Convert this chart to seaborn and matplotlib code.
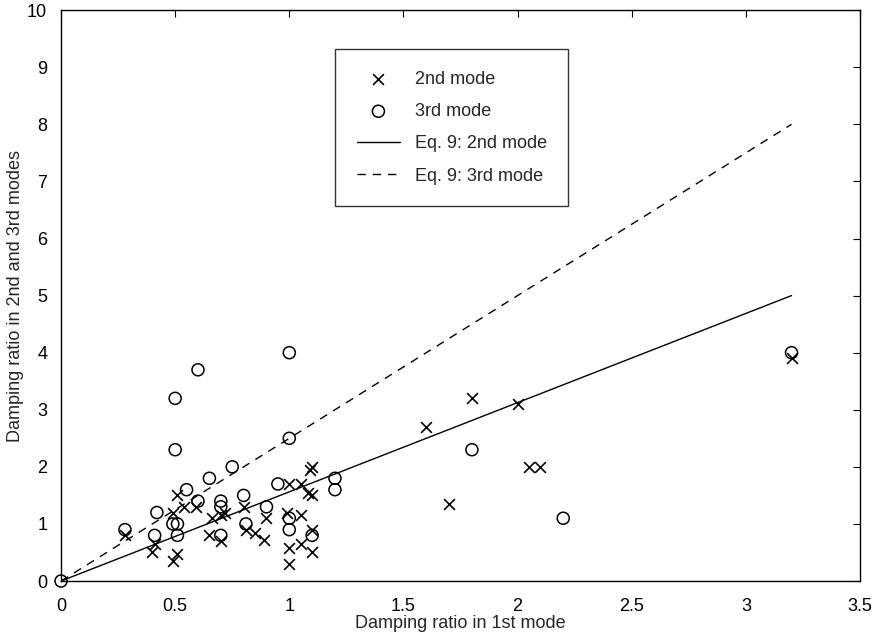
import numpy as np
import pandas as pd
import matplotlib
matplotlib.use("Agg")
import matplotlib.pyplot as plt
import seaborn as sns

# data
mode2_x = [0.28, 0.41, 0.40, 0.49, 0.51, 0.49, 0.51, 0.54, 0.59, 0.66, 0.70, 0.72,
           0.65, 0.70, 0.80, 0.81, 0.85, 0.89, 0.90, 0.99, 1.05, 1.00, 1.05, 1.09,
           1.10, 1.08, 1.10, 1.10, 1.05, 1.10, 1.00, 1.00, 1.60, 1.80, 2.00, 1.70,
           2.05, 2.10, 3.20]
mode2_y = [0.80, 0.65, 0.50, 0.35, 0.47, 1.20, 1.50, 1.30, 1.30, 1.10, 1.15, 1.20,
           0.80, 0.70, 1.30, 0.90, 0.85, 0.72, 1.10, 1.20, 1.15, 1.70, 1.70, 1.95,
           2.00, 1.55, 1.50, 0.90, 0.65, 0.50, 0.58, 0.30, 2.70, 3.20, 3.10, 1.35,
           2.00, 2.00, 3.90]

mode3_x = [0.00, 0.28, 0.42, 0.41, 0.49, 0.51, 0.51, 0.50, 0.50, 0.60, 0.55, 0.60,
           0.65, 0.75, 0.70, 0.70, 0.70, 0.80, 0.81, 0.90, 0.95, 1.00, 1.00, 1.10,
           1.20, 1.20, 1.00, 1.00, 1.80, 2.20, 3.20]
mode3_y = [0.00, 0.90, 1.20, 0.80, 1.00, 1.00, 0.80, 2.30, 3.20, 3.70, 1.60, 1.40,
           1.80, 2.00, 1.40, 1.30, 0.80, 1.50, 1.00, 1.30, 1.70, 1.10, 0.90, 0.80,
           1.80, 1.60, 2.50, 4.00, 2.30, 1.10, 4.00]

eq_x = [0.0, 3.2]
eq9_mode2 = [0.0, 5.0]
eq9_mode3 = [0.0, 8.0]

sns.set_style("white")
plt.rcParams['font.family'] = ['Liberation Sans', 'DejaVu Sans']

fig = plt.figure(figsize=(8.78, 6.35), dpi=100)
ax = fig.add_axes([0.0695, 0.085, 0.91, 0.899])

df2 = pd.DataFrame({'x': mode2_x, 'y': mode2_y})
df3 = pd.DataFrame({'x': mode3_x, 'y': mode3_y})
dfl = pd.DataFrame({'x': eq_x, 'm2': eq9_mode2, 'm3': eq9_mode3})

sns.scatterplot(data=df2, x='x', y='y', marker='x', color='black', s=60,
                linewidth=1.2, label='2nd mode', ax=ax, clip_on=False)
sns.scatterplot(data=df3, x='x', y='y', marker='o', facecolors='none',
                edgecolor='black', s=75, linewidth=1.1, label='3rd mode', ax=ax,
                clip_on=False)
sns.lineplot(data=dfl, x='x', y='m2', color='black', linewidth=1.0,
             label='Eq. 9: 2nd mode', ax=ax)
sns.lineplot(data=dfl, x='x', y='m3', color='black', linewidth=1.0,
             linestyle=(0, (6, 5)), label='Eq. 9: 3rd mode', ax=ax)

ax.set_xlim(0, 3.5)
ax.set_ylim(0, 10)
ax.set_xticks(np.arange(0, 3.51, 0.5))
ax.set_xticklabels(['0', '0.5', '1', '1.5', '2', '2.5', '3', '3.5'])
ax.set_yticks(range(0, 11))
ax.tick_params(direction='in', top=True, right=True, length=5, width=0.8,
               labelsize=13, colors='black')
ax.tick_params(axis='x', pad=12)
ax.tick_params(axis='y', pad=10)
for sp in ax.spines.values():
    sp.set_color('black')
    sp.set_linewidth(1.0)

ax.set_xlabel('Damping ratio in 1st mode', fontsize=13, labelpad=0)
ax.set_ylabel('Damping ratio in 2nd and 3rd modes', fontsize=13, labelpad=2)

leg = ax.legend(loc='upper left', bbox_to_anchor=(0.343, 0.932), fontsize=13,
                frameon=True, fancybox=False, edgecolor='black',
                labelspacing=0.85, borderpad=1.2, handlelength=2.4,
                handletextpad=0.8, borderaxespad=0)
leg.get_frame().set_linewidth(1.0)

fig.savefig('out.png', dpi=100)
